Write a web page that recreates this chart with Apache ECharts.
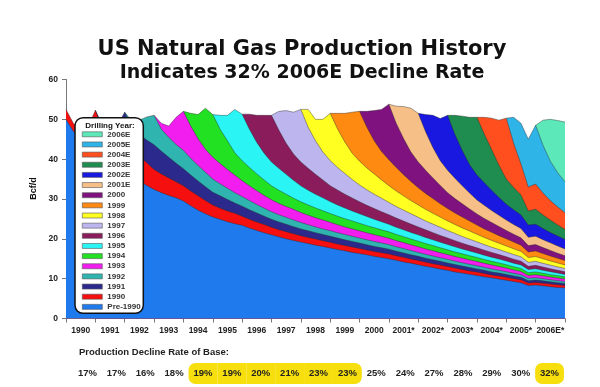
<!DOCTYPE html>
<html>
<head>
<meta charset="utf-8">
<script src="https://cdn.jsdelivr.net/npm/echarts@6/dist/echarts.min.js"></script>
<style>html,body{margin:0;padding:0;background:#fff}#c{width:600px;height:387px}</style>
</head>
<body>
<div id="c"></div>
<script>
// ---------- categories ----------
const years = ['1990','1991','1992','1993','1994','1995','1996','1997','1998','1999','2000','2001*','2002*','2003*','2004*','2005*','2006E*'];
const declineRates = ['17%','17%','16%','18%','19%','19%','20%','21%','23%','23%','25%','24%','27%','28%','29%','30%','32%'];
const highlighted = [false,false,false,false,true,true,true,true,true,true,false,false,false,false,false,false,true];
const vintageNames = ['Pre-1990','1990','1991','1992','1993','1994','1995','1996','1997','1998','1999','2000','2001E','2002E','2003E','2004E','2005E','2006E'];
const vintageColors = ['#1f7aee','#f50f0f','#2b2a8c','#2fb4b0','#f21ef0','#22e022','#2af4f4','#8a1c5c','#bdb6ee','#ffff22','#ff8a12','#7f127f','#f6bf88','#1818e0','#1f8c50','#ff4f1e','#2fb4e8','#5ce8b8'];

// ---------- values (Bcf/d), quarterly from 1990.0 to 2007.0 ----------
// total production (top of the stack)
const total = [52.5,49.0,47.5,48.0,52.3, 48.5,48.0,48.5,51.8, 49.5,49.8,50.6,51.0, 49.0,48.3,50.5,52.0,
  51.5,51.2,52.8,51.2, 51.0,51.0,52.5,51.3, 51.3,51.0,51.0,51.0, 52.0,52.2,51.8,52.5,
  52.5,50.0,50.0,51.5, 51.5,51.5,51.8,52.0, 52.0,52.2,52.5,53.8, 53.3,53.2,52.8,51.5,
  51.2,51.0,50.2,51.0, 51.0,50.8,50.5,50.5, 50.5,50.3,49.8,50.3, 50.5,49.0,45.0,48.5,
  49.8,50.0,49.7,49.3];
// top of Pre-1990 production
const pre1990 = [50.0,47.0,45.6,44.4,43.3, 41.7,40.2,38.8,37.5, 36.1,34.7,33.4,32.4, 31.6,30.9,30.3,29.5,
  28.3,27.2,26.3,25.5, 24.9,24.3,23.8,23.4, 22.7,22.1,21.5,21.0, 20.5,20.0,19.6,19.2,
  18.8,18.4,18.1,17.7, 17.3,17.0,16.6,16.3, 16.0,15.6,15.3,15.0, 14.6,14.2,13.9,13.5,
  13.1,12.8,12.4,12.1, 11.7,11.4,11.1,10.8, 10.5,10.2,9.9,9.6, 9.3,9.0,8.3,8.4,
  8.2,8.0,7.8,7.7];
// cumulative top through each drilling year, from the quarter after the next year's wells begin
const c1990 = [47.3,46.3,45.4,44.5, 42.6,40.8,39.1,37.4, 36.3,35.3,34.3,33.3, 32.0,30.8,29.6,28.5,
  27.7,27.0,26.4,25.7, 24.9,24.2,23.6,22.9, 22.3,21.8,21.3,20.8, 20.35,19.95,19.55,19.15,
  18.7,18.35,17.95,17.6, 17.2,16.85,16.5,16.2, 15.75,15.35,14.95,14.55, 14.15,13.75,13.4,13.05,
  12.65,12.3,11.95,11.65, 11.3,10.95,10.65,10.35, 10.0,9.7,8.9,9.05, 8.85,8.65,8.45,8.3];
const c1991 = [48.0,46.2,44.8,43.6, 42.0,40.5,39.0,37.6, 36.0,34.5,33.1,31.7, 30.8,29.9,29.0,28.2,
  27.3,26.5,25.7,24.9, 24.25,23.65,23.05,22.5, 22.0,21.55,21.1,20.65, 20.2,19.75,19.35,18.95,
  18.5,18.1,17.75,17.4, 16.9,16.45,16.0,15.6, 15.15,14.75,14.35,13.95, 13.55,13.15,12.8,12.45,
  12.1,11.7,11.4,11.05, 10.7,10.35,9.5,9.65, 9.45,9.2,9.0,8.8];
const c1992 = [47.5,45.5,43.7,42.2, 40.2,38.4,36.7,35.0, 33.8,32.7,31.6,30.6, 29.6,28.6,27.7,26.8,
  26.05,25.4,24.75,24.1, 23.55,23.0,22.5,22.05, 21.55,21.1,20.65,20.2, 19.75,19.35,18.95,18.55,
  18.0,17.55,17.05,16.6, 16.1,15.7,15.25,14.85, 14.4,14.0,13.6,13.25, 12.85,12.45,12.1,11.75,
  11.35,11.0,10.1,10.25, 10.0,9.75,9.5,9.3];
const c1993 = [48.3,45.1,42.5,40.5, 38.9,37.4,36.0,34.6, 33.3,32.1,30.9,29.8, 28.9,28.1,27.4,26.6,
  25.95,25.3,24.75,24.15, 23.55,23.0,22.5,22.0, 21.5,21.05,20.6,20.15, 19.55,19.05,18.5,18.0,
  17.45,17.0,16.5,16.05, 15.55,15.15,14.7,14.3, 13.85,13.45,13.05,12.65, 12.2,11.8,10.8,11.0,
  10.7,10.4,10.15,9.9];
const c1994 = [47.5,44.6,41.6,39.6, 37.9,36.3,34.8,33.3, 32.2,31.2,30.2,29.3, 28.5,27.75,27.05,26.35,
  25.7,25.05,24.5,23.9, 23.3,22.8,22.25,21.75, 21.1,20.55,19.95,19.4, 18.8,18.3,17.75,17.25,
  16.7,16.25,15.75,15.3, 14.8,14.35,13.95,13.5, 13.0,12.55,11.5,11.7, 11.35,11.0,10.75,10.45];
const c1995 = [47.5,44.2,41.5,39.3, 37.7,36.2,34.7,33.3, 32.2,31.2,30.3,29.35, 28.5,27.75,27.0,26.3,
  25.6,24.9,24.3,23.65, 22.9,22.25,21.6,21.0, 20.35,19.75,19.15,18.6, 18.0,17.45,16.95,16.45,
  15.9,15.4,14.95,14.45, 13.9,13.45,12.3,12.5, 12.1,11.75,11.4,11.05];
const c1996 = [47.3,44.0,41.3,39.3, 37.7,36.2,34.8,33.35, 32.25,31.2,30.25,29.3, 28.4,27.6,26.8,26.05,
  25.2,24.45,23.7,23.0, 22.25,21.55,20.85,20.2, 19.55,18.9,18.3,17.75, 17.15,16.6,16.05,15.5,
  14.9,14.4,13.1,13.35, 12.9,12.5,12.1,11.75];
const c1997 = [48.0,44.6,41.8,39.65, 37.9,36.4,34.9,33.5, 32.3,31.2,30.2,29.15, 28.1,27.2,26.3,25.4,
  24.5,23.7,22.9,22.1, 21.35,20.6,19.9,19.25, 18.55,17.9,17.3,16.7, 16.05,15.5,14.1,14.35,
  13.85,13.4,12.95,12.55];
const c1998 = [47.6,44.3,41.5,39.5, 37.8,36.3,34.8,33.35, 32.0,30.8,29.6,28.5, 27.4,26.4,25.45,24.5,
  23.6,22.75,21.95,21.15, 20.35,19.6,18.9,18.2, 17.5,16.85,15.3,15.55, 15.0,14.45,13.95,13.45];
const c1999 = [48.0,44.6,41.9,39.85, 37.9,36.1,34.4,32.8, 31.4,30.1,28.8,27.6, 26.5,25.45,24.45,23.45,
  22.5,21.65,20.8,20.0, 19.2,18.4,16.7,16.95, 16.3,15.7,15.1,14.55];
const c2000 = [49.0,45.2,41.8,39.3, 37.2,35.3,33.4,31.6, 30.1,28.8,27.5,26.25, 25.1,24.1,23.1,22.1,
  21.15,20.25,18.3,18.55, 17.8,17.1,16.4,15.75];
const c2001 = [46.9,42.9,39.6,37.2, 35.2,33.3,31.5,29.75, 28.4,27.1,25.9,24.7, 23.6,22.6,20.4,20.65,
  19.8,19.0,18.2,17.45];
const c2002 = [46.2,42.2,38.6,36.05, 34.1,32.2,30.4,28.7, 27.3,26.0,23.5,23.65, 22.6,21.6,20.7,19.85];
const c2003 = [46.3,42.4,38.5,35.0, 32.9,31.0,27.0,27.45, 26.0,24.7,23.5,22.35];
const c2004 = [44.0,38.8,33.0,33.75, 31.5,29.6,28.0,26.55];
const c2005 = [43.5,39.5,36.6,34.35];

const vintageTops = [c1990,c1991,c1992,c1993,c1994,c1995,c1996,c1997,c1998,c1999,c2000,c2001,c2002,c2003,c2004,c2005];
const Q = 4, START = 1990, LASTQ = total.length - 1;

function vintageData(k) { // k = 0 for 1990 ... 16 for 2006E
  const qs = Q * k, qe = Q * (k + 1);
  const out = [];
  for (let q = qs; q <= Math.min(qe, LASTQ); q++) out.push([START + q / Q, total[q]]);
  const tail = vintageTops[k];
  if (tail) tail.forEach((v, i) => out.push([START + (qe + 1 + i) / Q, v]));
  return out;
}

const lineStyle = { width: 0.6, color: 'rgba(40,40,40,0.7)' };
const areaSeries = [];
for (let k = 16; k >= 0; k--) {
  const name = vintageNames[k + 1], color = vintageColors[k + 1];
  areaSeries.push({
    name, type: 'line', xAxisIndex: 0, yAxisIndex: 0, data: vintageData(k),
    symbol: 'none', showSymbol: false, color, itemStyle: { color },
    lineStyle, areaStyle: { color, opacity: 1 }, silent: true
  });
}
areaSeries.push({
  name: vintageNames[0], type: 'line', xAxisIndex: 0, yAxisIndex: 0,
  data: pre1990.map((v, q) => [START + q / Q, v]),
  symbol: 'none', showSymbol: false, color: vintageColors[0], itemStyle: { color: vintageColors[0] },
  lineStyle, areaStyle: { color: vintageColors[0], opacity: 1 }, silent: true
});

const R = 7;
const rateBars = {
  type: 'bar', xAxisIndex: 2, yAxisIndex: 1, barCategoryGap: '0%', silent: true,
  data: declineRates.map((r, i) => {
    const h = highlighted[i];
    const l = h && !highlighted[i - 1], rr = h && !highlighted[i + 1];
    return { value: 1, itemStyle: { color: h ? '#f6df0c' : 'rgba(0,0,0,0)',
      borderRadius: [l ? R : 0, rr ? R : 0, rr ? R : 0, l ? R : 0] } };
  }),
  label: { show: true, position: 'inside', formatter: p => declineRates[p.dataIndex],
    fontSize: 9.5, fontWeight: 'bold', color: '#222', fontFamily: 'Liberation Sans' }
};

const chart = echarts.init(document.getElementById('c'), null, { renderer: 'canvas' });
const txt = (text, x, y, font, extra) => Object.assign({
  type: 'text', x, y, z: 20,
  style: { text, font, fill: '#111', align: 'center', verticalAlign: 'middle',
    textAlign: 'center', textVerticalAlign: 'middle' }
}, extra || {});

chart.setOption({
  animation: false,
  backgroundColor: '#fff',
  grid: [
    { left: 66, right: 35, top: 79.5, bottom: 68.5, containLabel: false, outerBoundsMode: 'none' },
    { left: 73, right: 36, top: 363, height: 21, containLabel: false, outerBoundsMode: 'none' }
  ],
  xAxis: [
    { type: 'value', gridIndex: 0, min: 1990, max: 2007, show: false },
    { type: 'category', gridIndex: 0, data: years, position: 'bottom', boundaryGap: true,
      axisLine: { show: true, lineStyle: { color: '#777', width: 1 } },
      axisTick: { show: true, length: 4, lineStyle: { color: '#777' } },
      splitLine: { show: false },
      axisLabel: { interval: 0, margin: 8, fontSize: 8.5, fontWeight: 'bold', color: '#222', fontFamily: 'Liberation Sans' } },
    { type: 'category', gridIndex: 1, data: years, show: false }
  ],
  yAxis: [
    { type: 'value', gridIndex: 0, min: 0, max: 60, interval: 10,
      axisLine: { show: true, lineStyle: { color: '#777', width: 1 } },
      axisTick: { show: true, length: 4, lineStyle: { color: '#777' } },
      splitLine: { show: false },
      axisLabel: { margin: 8, fontSize: 8.5, fontWeight: 'bold', color: '#222', fontFamily: 'Liberation Sans' } },
    { type: 'value', gridIndex: 1, min: 0, max: 1, show: false }
  ],
  legend: {
    orient: 'vertical', left: 82, top: 129.3, z: 30, padding: 0,
    itemWidth: 20, itemHeight: 5, itemGap: 0.15, itemTextGap: 3, icon: 'rect', selectedMode: false,
    itemStyle: { borderColor: '#555', borderWidth: 0.6 },
    textStyle: { fontSize: 8, fontWeight: 'bold', color: '#333', fontFamily: 'Liberation Sans', lineHeight: 10 },
    data: vintageNames.slice().reverse()
  },
  graphic: { elements: [
    { type: 'rect', z: 25, shape: { x: 75, y: 117.7, width: 68.3, height: 195.6, r: 8 },
      style: { fill: '#fff', stroke: '#111', lineWidth: 1.5 } },
    txt('Drilling Year:', 110, 125.5, 'bold 8px "Liberation Sans"', { z: 31 }),
    txt('US Natural Gas Production History', 302, 49.5, 'bold 21px "DejaVu Sans"'),
    txt('Indicates 32% 2006E Decline Rate', 302, 73.5, 'bold 19px "DejaVu Sans"'),
    txt('Bcf/d', 34, 188.5, 'bold 9px "Liberation Sans"', { rotation: Math.PI / 2 }),
    { type: 'text', x: 79, y: 352, z: 20,
      style: { text: 'Production Decline Rate of Base:', font: 'bold 9.5px "Liberation Sans"', fill: '#222',
        align: 'left', verticalAlign: 'middle', textAlign: 'left', textVerticalAlign: 'middle' } }
  ] },
  series: areaSeries.concat([rateBars])
});
</script>
</body>
</html>
